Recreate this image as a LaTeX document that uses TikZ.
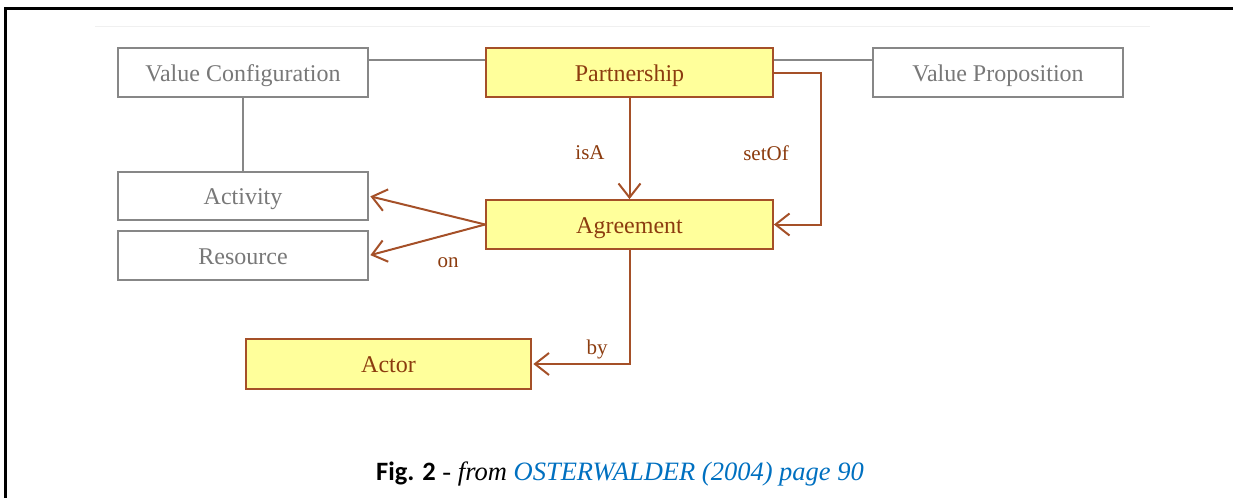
\documentclass[tikz,border=0pt]{standalone}
\usepackage{fontspec}
\setmainfont{Liberation Serif}
\newfontfamily\capfont{Carlito}
\usetikzlibrary{arrows.meta}
\definecolor{greyline}{RGB}{135,135,135}
\definecolor{greytext}{RGB}{120,120,120}
\definecolor{brownline}{RGB}{165,80,40}
\definecolor{browntext}{RGB}{140,60,15}
\definecolor{boxyellow}{RGB}{255,255,155}
\definecolor{linkblue}{RGB}{0,112,192}
\tikzset{
  greybox/.style={draw=greyline, line width=1.8pt, fill=white, text=greytext,
    minimum width=250pt, minimum height=49pt, inner sep=0pt,
    text height=18pt, text depth=1pt,
    font=\fontsize{24}{27}\selectfont},
  yelbox/.style={draw=brownline, line width=1.8pt, fill=boxyellow, text=browntext,
    minimum width=287pt, minimum height=49pt, inner sep=0pt,
    text height=18pt, text depth=1pt,
    font=\fontsize{24}{27}\selectfont},
  greyconn/.style={draw=greyline, line width=1.8pt},
  brownconn/.style={draw=brownline, line width=2pt,
    -{Straight Barb[length=14pt,width=22pt,line width=2pt]}},
  lbl/.style={text=browntext, font=\fontsize{21}{23}\selectfont, inner sep=0pt}
}
\begin{document}
\begin{tikzpicture}[x=1pt,y=-1pt]
\useasboundingbox (0,0) rectangle (1233,498);
% frame
\draw[line width=2.5pt] (1233,8.5) -- (5.5,8.5) -- (5.5,498);
\draw[black!6, line width=1pt] (95,26) -- (1150,26);
% nodes
\node[greybox] (vc) at (243,72.5) {Value Configuration};
\node[yelbox] (ps) at (629.5,72.5) {Partnership};
\node[greybox] (vp) at (998,72.5) {Value Proposition};
\node[greybox, minimum height=48pt] (act) at (243,196) {Activity};
\node[greybox] (res) at (243,255.5) {Resource};
\node[yelbox] (ag) at (629.5,224.5) {Agreement};
\node[yelbox, minimum width=285pt, minimum height=50pt] (actor) at (388.5,364) {Actor};
% grey connectors
\draw[greyconn] ([yshift=12.5pt]vc.east) -- ([yshift=12.5pt]ps.west);
\draw[greyconn] ([yshift=12.5pt]ps.east) -- ([yshift=12.5pt]vp.west);
\draw[greyconn] (vc.south) -- (act.north);
% brown connectors
\draw[brownconn] (ps.south) -- (ag.north);
\draw[brownconn] (ps.east) -- ++(47,0) |- (ag.east);
\draw[brownconn, shorten >=1.5pt] (ag.west) -- (act.east);
\draw[brownconn, shorten >=1.5pt] (ag.west) -- (res.east);
\draw[brownconn, shorten >=1.5pt] (ag.south) |- (actor.east);
% labels
\node[lbl] (lisa) at (590,153) {isA};
\node[lbl] (lset) at (766,153) {setOf};
\node[lbl] (lon) at (448,263) {on};
\node[lbl] (lby) at (597,349) {by};
% caption
\node[inner sep=0pt, anchor=base] (cap) at (620,480)
  {\fontsize{26.5}{30}\selectfont{\capfont\bfseries Fig. 2} - \textit{from} \textcolor{linkblue}{\textit{OSTERWALDER (2004) page 90}}};
\end{tikzpicture}
\end{document}
